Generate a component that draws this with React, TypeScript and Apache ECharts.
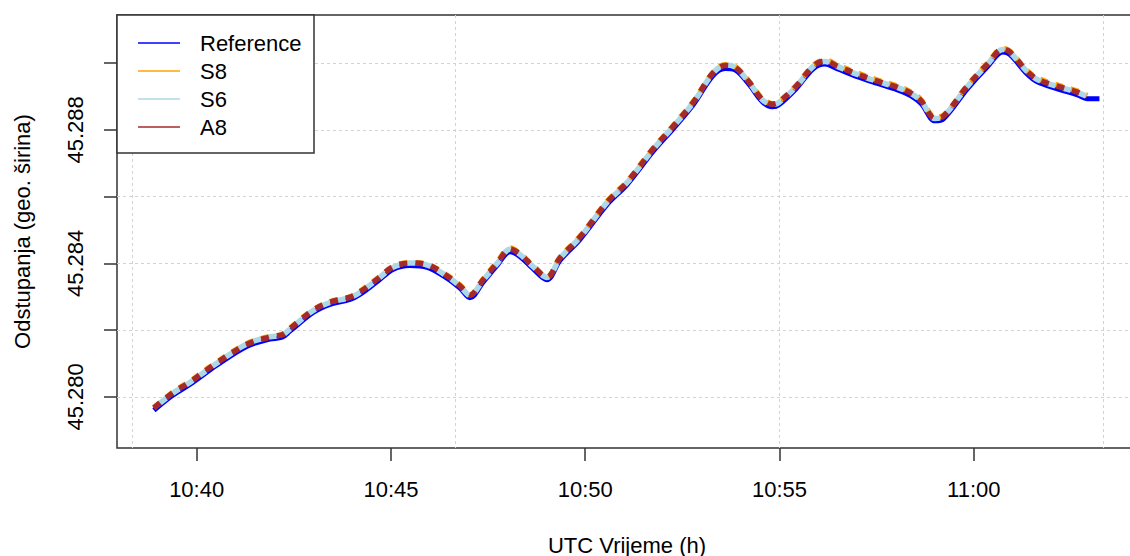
import React, { useEffect, useRef } from "react";
import * as echarts from "echarts";

// Time stamps (UTC, HH:MM:SS)
const times: string[] = [
  "10:38:54", "10:39:23", "10:39:50", "10:40:31", "10:41:18", "10:41:53", "10:42:12", "10:42:24", "10:43:00", "10:43:26",
  "10:43:57", "10:44:12", "10:44:39", "10:45:03", "10:45:29", "10:45:56", "10:46:27", "10:46:47", "10:47:02", "10:47:22",
  "10:47:44", "10:48:04", "10:48:19", "10:48:39", "10:49:01", "10:49:21", "10:49:52", "10:50:34", "10:51:05", "10:51:45",
  "10:52:16", "10:52:47", "10:53:17", "10:53:36", "10:53:51", "10:54:13", "10:54:33", "10:54:49", "10:54:59", "10:55:26",
  "10:55:52", "10:56:10", "10:56:29", "10:57:00", "10:57:31", "10:58:02", "10:58:23", "10:58:39", "10:59:00", "10:59:13",
  "10:59:50", "11:00:21", "11:00:45", "11:00:56", "11:01:22", "11:01:38", "11:02:09", "11:02:40", "11:02:55", "11:03:14",
];

const reference: number[] = [
  45.27960, 45.28005, 45.28038, 45.28095, 45.28152, 45.28173, 45.28179, 45.28197, 45.28253, 45.28277,
  45.28292, 45.28307, 45.28346, 45.28382, 45.28394, 45.28388, 45.28355, 45.28325, 45.28297, 45.28343,
  45.28394, 45.28435, 45.28421, 45.28385, 45.28351, 45.28409, 45.28472, 45.28577, 45.28637, 45.28736,
  45.28804, 45.28876, 45.28962, 45.28984, 45.28980, 45.28936, 45.28885, 45.28869, 45.28875, 45.28924,
  45.28983, 45.28997, 45.28983, 45.28959, 45.28939, 45.28920, 45.28902, 45.28878, 45.28827, 45.28833,
  45.28923, 45.28989, 45.29033, 45.29025, 45.28968, 45.28944, 45.28923, 45.28905, 45.28893, 45.28893,
];

const s8: number[] = [
  45.27968, 45.28014, 45.28047, 45.28104, 45.28160, 45.28181, 45.28187, 45.28206, 45.28261, 45.28285,
  45.28300, 45.28316, 45.28355, 45.28390, 45.28402, 45.28397, 45.28364, 45.28334, 45.28306, 45.28352,
  45.28404, 45.28446, 45.28430, 45.28394, 45.28360, 45.28418, 45.28481, 45.28586, 45.28646, 45.28745,
  45.28813, 45.28885, 45.28971, 45.28995, 45.28990, 45.28945, 45.28894, 45.28878, 45.28885, 45.28933,
  45.28993, 45.29009, 45.28994, 45.28970, 45.28949, 45.28931, 45.28913, 45.28889, 45.28838, 45.28843,
  45.28933, 45.28999, 45.29044, 45.29035, 45.28978, 45.28955, 45.28934, 45.28916, 45.28903,
];

const s6: number[] = [
  45.27966, 45.28011, 45.28044, 45.28101, 45.28159, 45.28180, 45.28185, 45.28203, 45.28259, 45.28283,
  45.28298, 45.28313, 45.28352, 45.28388, 45.28401, 45.28395, 45.28361, 45.28331, 45.28304, 45.28349,
  45.28400, 45.28442, 45.28427, 45.28391, 45.28358, 45.28415, 45.28478, 45.28583, 45.28643, 45.28742,
  45.28810, 45.28882, 45.28969, 45.28994, 45.28988, 45.28942, 45.28891, 45.28876, 45.28882, 45.28930,
  45.28990, 45.29005, 45.28990, 45.28966, 45.28945, 45.28927, 45.28909, 45.28885, 45.28834, 45.28840,
  45.28930, 45.28996, 45.29041, 45.29032, 45.28975, 45.28951, 45.28930, 45.28912, 45.28900,
];

const a8: number[] = [
  45.27967, 45.28012, 45.28045, 45.28102, 45.28158, 45.28179, 45.28186, 45.28204, 45.28260, 45.28284,
  45.28299, 45.28314, 45.28353, 45.28389, 45.28401, 45.28396, 45.28362, 45.28332, 45.28305, 45.28350,
  45.28401, 45.28443, 45.28428, 45.28392, 45.28359, 45.28416, 45.28479, 45.28584, 45.28644, 45.28743,
  45.28811, 45.28883, 45.28970, 45.28993, 45.28988, 45.28943, 45.28892, 45.28877, 45.28883, 45.28931,
  45.28991, 45.29006, 45.28991, 45.28967, 45.28946, 45.28928, 45.28910, 45.28886, 45.28835, 45.28841,
  45.28931, 45.28997, 45.29042, 45.29033, 45.28976, 45.28952, 45.28931, 45.28913, 45.28901,
];

const seriesNames = ["Reference", "S8", "S6", "A8"];
const seriesColors = ["#0000FF", "#FFA500", "#ADD8E6", "#A52A2A"];

const xTickLabels = ["10:40", "10:45", "10:50", "10:55", "11:00"];
const xGridTimes = ["10:38:20", "10:46:40", "10:55:00", "11:03:20"];
const yTicks = [45.28, 45.282, 45.284, 45.286, 45.288, 45.29];
const yTickLabels = [45.28, 45.284, 45.288];

const X_MIN = "10:37:57";
const X_MAX = "11:04:12";
const Y_MIN = 45.27847;
const Y_MAX = 45.29144;

const toSec = (s: string): number => {
  const p = s.split(":").map(Number);
  return p[0] * 3600 + p[1] * 60 + (p[2] || 0);
};
const fmtHM = (v: number): string => {
  const h = Math.floor(v / 3600);
  const m = Math.round((v - h * 3600) / 60);
  return `${h}:${String(m).padStart(2, "0")}`;
};

const FONT = "'Liberation Sans', Arial, Helvetica, sans-serif";

export default function App() {
  const ref = useRef<HTMLDivElement>(null);

  useEffect(() => {
    if (!ref.current) return;
    const chart = echarts.init(ref.current, undefined, { renderer: "svg" });

    const mk = (vals: number[]) => vals.map((v, i) => [toSec(times[i]), v]);
    const allVals = [reference, s8, s6, a8];
    const dashes: any[] = ["solid", [8, 8], [8, 8], [8, 8]];
    const offsets = [0, 0, 8, 0];
    const widths = [5, 5.5, 5.5, 5.5];

    const series: any[] = allVals.map((vals, k) => ({
      type: "line",
      name: seriesNames[k],
      xAxisIndex: 0,
      yAxisIndex: 0,
      data: mk(vals),
      showSymbol: false,
      symbol: "none",
      smooth: 0.35,
      lineStyle: {
        color: seriesColors[k],
        width: widths[k],
        type: dashes[k],
        dashOffset: offsets[k],
        cap: "butt",
        join: "round",
      },
      z: 2 + k,
    }));

    const legendRows = [43, 71, 99, 127];
    const graphic: any[] = [
      {
        type: "rect",
        shape: { x: 117, y: 15, width: 197, height: 138 },
        style: { fill: "#fff", stroke: "#333", lineWidth: 1.5 },
        z: 100,
      },
    ];
    seriesNames.forEach((n, i) => {
      graphic.push({
        type: "line",
        shape: { x1: 138, y1: legendRows[i], x2: 180, y2: legendRows[i] },
        style: { stroke: seriesColors[i], lineWidth: 1.5 },
        z: 101,
      });
      graphic.push({
        type: "text",
        x: 200,
        y: legendRows[i],
        style: {
          text: n,
          fontSize: 22,
          fontFamily: FONT,
          fill: "#000",
          verticalAlign: "middle",
          align: "left",
        },
        z: 101,
      });
    });

    chart.setOption({
      animation: false,
      backgroundColor: "#fff",
      textStyle: { fontFamily: FONT },
      grid: {
        left: 117,
        right: 13,
        top: 15,
        bottom: 108,
        show: true,
        borderColor: "#333",
        borderWidth: 1.5,
        backgroundColor: "transparent",
        outerBoundsMode: "none",
        containLabel: false,
      },
      xAxis: [
        {
          type: "value",
          min: toSec(X_MIN),
          max: toSec(X_MAX),
          position: "bottom",
          axisLine: { show: false },
          axisTick: {
            show: true,
            length: 13,
            lineStyle: { color: "#333", width: 1.5 },
            customValues: xTickLabels.map(toSec),
          },
          axisLabel: {
            show: true,
            customValues: xTickLabels.map(toSec),
            formatter: (v: number) => fmtHM(v),
            fontSize: 22,
            color: "#000",
            margin: 30,
            fontFamily: FONT,
          },
          splitLine: { show: false },
          name: "UTC Vrijeme (h)",
          nameLocation: "middle",
          nameGap: 86,
          nameTextStyle: { fontSize: 22, color: "#000", fontFamily: FONT },
        },
        {
          type: "value",
          min: toSec(X_MIN),
          max: toSec(X_MAX),
          position: "bottom",
          axisLine: { show: false },
          axisTick: { show: false, customValues: xGridTimes.map(toSec) },
          axisLabel: { show: false, customValues: xGridTimes.map(toSec) },
          splitLine: {
            show: true,
            lineStyle: { color: "#D3D3D3", width: 1, type: [3, 3] },
          },
        },
      ],
      yAxis: [
        {
          type: "value",
          min: Y_MIN,
          max: Y_MAX,
          axisLine: { show: false },
          axisTick: {
            show: true,
            length: 13,
            lineStyle: { color: "#333", width: 1.5 },
            customValues: yTicks,
          },
          axisLabel: {
            show: true,
            customValues: yTickLabels,
            rotate: 90,
            formatter: (v: number) => v.toFixed(3),
            fontSize: 22,
            color: "#000",
            margin: 31,
            fontFamily: FONT,
          },
          splitLine: {
            show: true,
            lineStyle: { color: "#D3D3D3", width: 1, type: [3, 3] },
          },
          name: "Odstupanja (geo. širina)",
          nameLocation: "middle",
          nameGap: 84,
          nameTextStyle: { fontSize: 22, color: "#000", fontFamily: FONT },
        },
      ],
      series,
      graphic,
    });

    return () => {
      chart.dispose();
    };
  }, []);

  return (
    <div
      style={{
        position: "fixed",
        left: 0,
        top: 0,
        width: 1130,
        height: 556,
        overflow: "hidden",
        background: "#fff",
      }}
    >
      <div ref={ref} style={{ width: 1150, height: 556 }} />
    </div>
  );
}
